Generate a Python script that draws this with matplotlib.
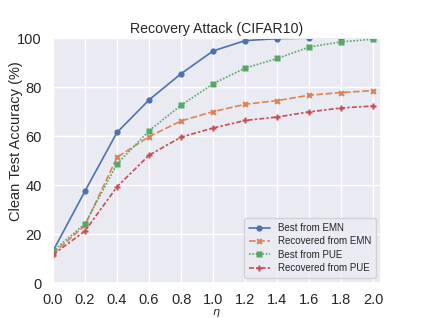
import matplotlib
matplotlib.use('Agg')
import matplotlib.pyplot as plt
import seaborn as sns

# eta values and accuracies
eta = [0.0, 0.2, 0.4, 0.6, 0.8, 1.0, 1.2, 1.4, 1.6, 1.8, 2.0]
best_emn = [13.0, 37.5, 61.5, 74.8, 85.5, 94.8, 99.0, 99.8, 100.0, 100.0, 100.0]
recovered_emn = [12.0, 23.5, 51.3, 59.8, 66.2, 70.0, 73.0, 74.5, 76.7, 77.8, 78.6]
best_pue = [13.0, 24.2, 48.6, 62.2, 72.6, 81.4, 87.8, 91.7, 96.4, 98.5, 99.6]
recovered_pue = [11.6, 21.2, 39.3, 52.2, 59.6, 63.3, 66.4, 67.8, 69.9, 71.5, 72.3]

SERIES = [
    ('Best from EMN', best_emn, 'o', '-'),
    ('Recovered from EMN', recovered_emn, 'X', (0, (4, 1.5))),
    ('Best from PUE', best_pue, 's', (0, (1, 1))),
    ('Recovered from PUE', recovered_pue, 'P', (0, (3, 1.25, 1.5, 1.25))),
]


def main():
    sns.set_theme(style='darkgrid')
    plt.rcParams['font.family'] = ['Liberation Sans', 'DejaVu Sans']
    colors = sns.color_palette('deep')

    fig, ax = plt.subplots(figsize=(4.23, 3.18), dpi=100)
    for (label, values, marker, ls), color in zip(SERIES, colors):
        ax.plot(eta, values, marker=marker, linestyle=ls, color=color,
                linewidth=1.2, markersize=4.5, markeredgecolor='none',
                label=label)

    ax.set_xlim(0, 2.045)
    ax.set_ylim(0, 100)
    ax.set_xticks(eta)
    ax.set_xticklabels([f'{v:.1f}' for v in eta])
    ax.tick_params(axis='both', labelsize=10.5, pad=2)
    ax.tick_params(axis='x', pad=1)
    ax.set_title('Recovery Attack (CIFAR10)', fontsize=10.2, pad=4)
    ax.set_ylabel('Clean Test Accuracy (%)', fontsize=10.5)
    ax.yaxis.set_label_coords(-0.09, 0.58)
    ax.set_xlabel(r'$\eta$', fontsize=8, labelpad=0)
    ax.legend(loc='lower right', fontsize=7, handlelength=2.2,
              borderpad=0.5, labelspacing=0.35)

    fig.savefig('out.png', dpi=100)
    plt.close(fig)


if __name__ == '__main__':
    main()
